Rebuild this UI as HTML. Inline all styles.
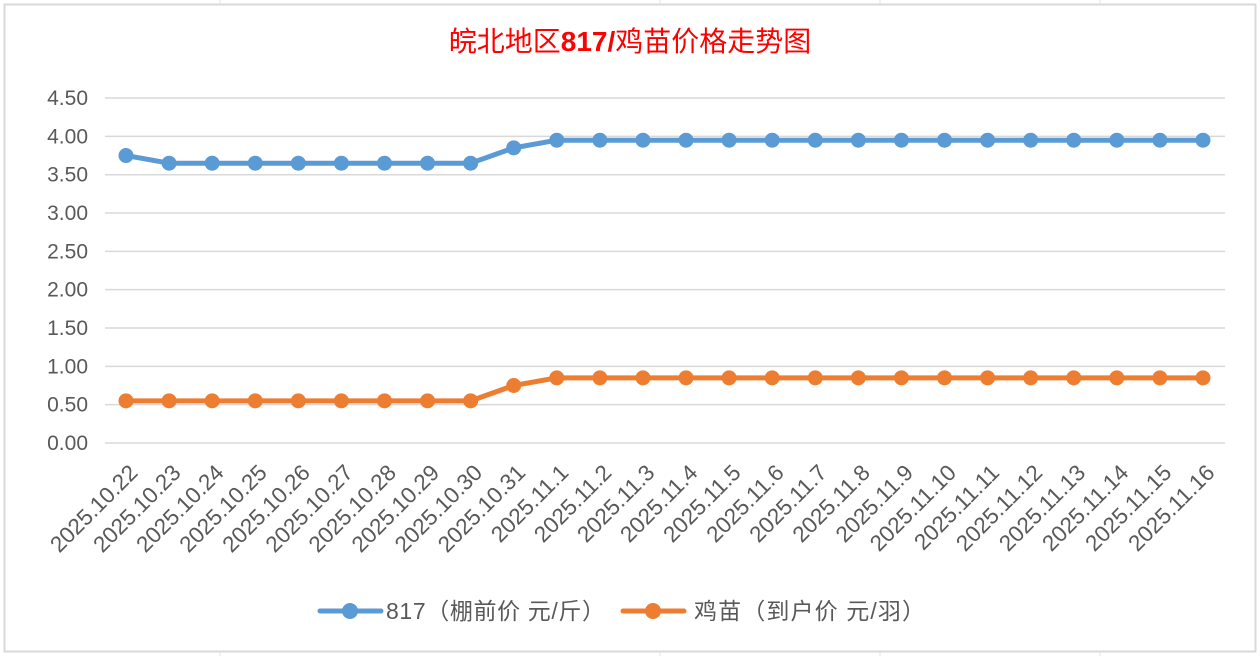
<!DOCTYPE html><html><head><meta charset="utf-8"><style>body{margin:0;background:#fff}svg{display:block}text{font-family:"Liberation Sans","Noto Sans CJK SC",sans-serif}</style></head><body>
<svg width="1260" height="656" xmlns="http://www.w3.org/2000/svg">
<rect width="1260" height="656" fill="#fff"/>
<g stroke="#e3e3e3" stroke-width="1">
<line x1="220" y1="0" x2="220" y2="4"/><line x1="660" y1="0" x2="660" y2="4"/><line x1="880" y1="0" x2="880" y2="4"/><line x1="1100" y1="0" x2="1100" y2="4"/>
<line x1="220" y1="652" x2="220" y2="656"/><line x1="660" y1="652" x2="660" y2="656"/><line x1="880" y1="652" x2="880" y2="656"/><line x1="1100" y1="652" x2="1100" y2="656"/>
</g>
<rect x="4.5" y="4.5" width="1251" height="647" fill="#fff" stroke="#d9d9d9" stroke-width="2"/>
<text x="630" y="51" text-anchor="middle" font-size="28" fill="#ff0000" font-family="'Noto Serif CJK SC','Liberation Serif',serif">皖北地区<tspan font-weight="bold" font-family="'Liberation Sans',sans-serif">817/</tspan>鸡苗价格走势图</text>
<g id="grid" stroke="#d9d9d9" stroke-width="1.5"></g>
<g id="yl" font-size="21" fill="#595959" text-anchor="end"></g>
<g id="xl" font-size="22.5" fill="#595959" text-anchor="end"></g>
<g id="s"></g>
<line x1="320" y1="611" x2="381" y2="611" stroke="#5b9bd5" stroke-width="5" stroke-linecap="round"/><circle cx="350" cy="611" r="8" fill="#5b9bd5"/>
<text x="386" y="619" font-size="23" fill="#595959" textLength="219">817（棚前价 元/斤）</text>
<line x1="623" y1="611" x2="684" y2="611" stroke="#ed7d31" stroke-width="5" stroke-linecap="round"/><circle cx="653" cy="611" r="8" fill="#ed7d31"/>
<text x="694" y="619" font-size="23" fill="#595959" textLength="231">鸡苗（到户价 元/羽）</text>
</svg>
<script>
const NS="http://www.w3.org/2000/svg";
function el(p,t,a,txt){const e=document.createElementNS(NS,t);for(const k in a)e.setAttribute(k,a[k]);if(txt)e.textContent=txt;document.getElementById(p).appendChild(e);}
const y=v=>443-v/0.5*38.33, x=i=>126+i*43.08;
for(let k=0;k<=9;k++){const v=k*0.5;el("grid","line",{x1:105,x2:1225,y1:y(v),y2:y(v)});el("yl","text",{x:88,y:y(v)+7},v.toFixed(2));}
const d=[];for(let i=22;i<=31;i++)d.push("2025.10."+i);for(let i=1;i<=16;i++)d.push("2025.11."+i);
d.forEach((t,i)=>el("xl","text",{transform:`translate(${x(i)+13},${474}) rotate(-45)`},t));
const a=[3.75,3.65,3.65,3.65,3.65,3.65,3.65,3.65,3.65,3.85],b=[.55,.55,.55,.55,.55,.55,.55,.55,.55,.75];
while(a.length<26){a.push(3.95);b.push(.85);}
[[a,"#5b9bd5"],[b,"#ed7d31"]].forEach(([s,c])=>{el("s","polyline",{points:s.map((v,i)=>x(i)+","+y(v)).join(" "),fill:"none",stroke:c,"stroke-width":5,"stroke-linejoin":"round"});s.forEach((v,i)=>el("s","circle",{cx:x(i),cy:y(v),r:7.5,fill:c}));});
</script>
</body></html>
